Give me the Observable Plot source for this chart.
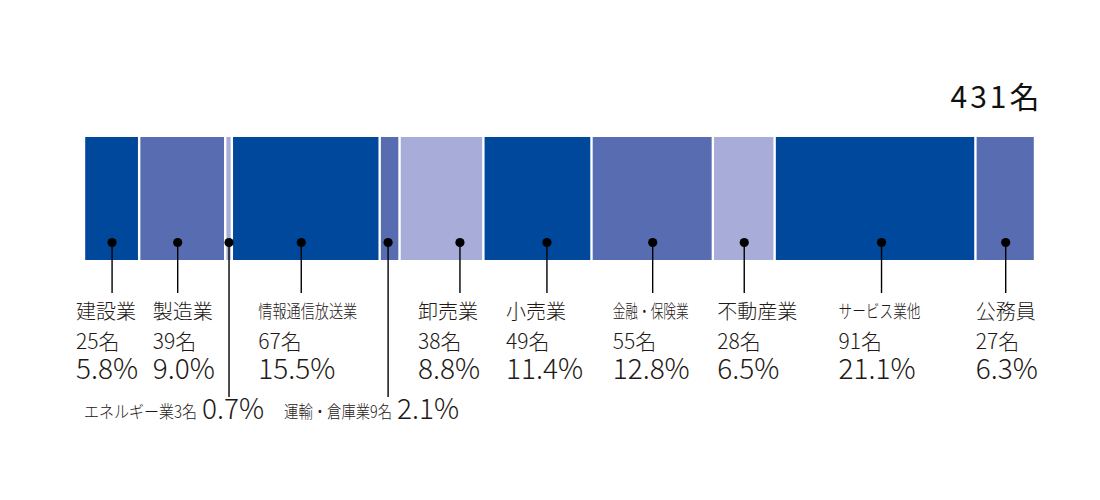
<!DOCTYPE html>
<html>
<head>
<meta charset="utf-8">
<script src="https://cdn.jsdelivr.net/npm/d3@7"></script>
<script src="https://cdn.jsdelivr.net/npm/@observablehq/plot@0.6"></script>
<style>
  html, body { margin: 0; padding: 0; background: #fff; }
</style>
</head>
<body>
<div id="chart"></div>
<script>
// ---- data ----
const categories = ["建設業", "製造業", "エネルギー業", "情報通信放送業", "運輸・倉庫業", "卸売業", "小売業", "金融・保険業", "不動産業", "サービス業他", "公務員"];
const counts = [25, 39, 3, 67, 9, 38, 49, 55, 28, 91, 27];
const percents = ["5.8%", "9.0%", "0.7%", "15.5%", "2.1%", "8.8%", "11.4%", "12.8%", "6.5%", "21.1%", "6.3%"];
const unit = "名";
const totalLabel = "431名";

// ---- style / layout (pixels) ----
const palette = ["#00489c", "#586cb2", "#a8acd8"];
const frame = {left: 84, right: 1035, top: 137, bottom: 260};
const dotShiftPx = [0, -5, 0, -5, -2, 18, 9, 0, 0, 6, 0];       // dot position relative to segment centre
const labelStartPx = [-36, -25, 0, -43, 0, -42, -41, -40, -27, -43, -30]; // label block start relative to dot
const inlineLabel = {2: {textEnd: -32, pctStart: -27}, 4: {textEnd: 4, pctStart: 9}}; // thin segments labelled below
const condensedWidthPx = [0, 0, 113, 99, 108, 0, 0, 76, 0, 82, 0]; // condensed label widths (0 = natural)
const yPx = {dot: 242, leaderEnd: 293, leaderEndLow: 397, name: 312, count: 342, pct: 370, inline: 410, total: 98};

const total = d3.sum(counts);
const pxPerUnit = (frame.right - frame.left) / total;
const toY = px => (frame.bottom - px) / (frame.bottom - frame.top);
const ends = d3.cumsum(counts);

const rows = categories.map((c, i) => {
  const end = ends[i], start = end - counts[i];
  const dotX = (start + end) / 2 + dotShiftPx[i] / pxPerUnit;
  const inl = inlineLabel[i];
  return {
    i, c, count: counts[i], pct: percents[i], start, end,
    lo: 0, hi: 1,
    dotX,
    dotY: toY(yPx.dot),
    leadY: toY(inl ? yPx.leaderEndLow : yPx.leaderEnd),
    labelX: dotX + labelStartPx[i] / pxPerUnit,
    inline: !!inl,
    inlineText: c + counts[i] + unit,
    inlineTextX: inl ? dotX + inl.textEnd / pxPerUnit : null,
    inlinePctX: inl ? dotX + inl.pctStart / pxPerUnit : null
  };
});
const normal = rows.filter(d => !d.inline);
const inl = rows.filter(d => d.inline);

const font = "'Noto Sans CJK JP Light', 'Noto Sans CJK JP', 'Noto Sans', sans-serif";
const ink = "#231815";

const chart = Plot.plot({
  width: 1100,
  height: 500,
  margin: 0,
  x: {domain: [0, total], range: [frame.left, frame.right], axis: null},
  y: {domain: [0, 1], range: [frame.bottom, frame.top], axis: null},
  style: {fontFamily: font, background: "#fff", color: ink},
  marks: [
    Plot.rect(rows, {x1: "start", x2: "end", y1: "lo", y2: "hi", fill: d => palette[d.i % 3], insetLeft: 1.2, insetRight: 1.2}),
    Plot.ruleX(rows, {x: "dotX", y1: "dotY", y2: "leadY", stroke: "#000", strokeWidth: 1.4}),
    Plot.dot(rows, {x: "dotX", y: "dotY", r: 4.6, fill: "#000", stroke: null}),
    // regular labels
    Plot.text(normal, {x: "labelX", y: () => toY(yPx.name), text: "c", textAnchor: "start",
      fontSize: d => condensedWidthPx[d.i] ? 18 : 20, fill: ink, fontWeight: 300, className: "cond"}),
    Plot.text(normal, {x: "labelX", y: () => toY(yPx.count), text: d => d.count + unit, textAnchor: "start",
      fontSize: 21, fill: ink, fontWeight: 300}),
    Plot.text(normal, {x: "labelX", y: () => toY(yPx.pct), text: "pct", textAnchor: "start",
      fontSize: 28, fill: ink, fontWeight: 300}),
    // inline labels for thin segments
    Plot.text(inl, {x: "inlineTextX", y: () => toY(yPx.inline + 2), text: "inlineText", textAnchor: "end",
      fontSize: 17, fill: ink, fontWeight: 300, className: "cond"}),
    Plot.text(inl, {x: "inlinePctX", y: () => toY(yPx.inline), text: "pct", textAnchor: "start",
      fontSize: 28, fill: ink, fontWeight: 300}),
    // total
    Plot.text([totalLabel], {x: () => total, y: () => toY(yPx.total), text: d => d, textAnchor: "end", dx: 7,
      fontSize: 30, fill: "#111", fontWeight: 400, fontFamily: "'Noto Sans CJK JP', sans-serif", className: "total-label"})
  ]
});
// condense long labels to their reference widths
const widthByText = new Map();
rows.forEach(d => {
  if (condensedWidthPx[d.i]) widthByText.set(d.inline ? d.inlineText : d.c, condensedWidthPx[d.i]);
});
d3.select(chart).selectAll(".cond text").each(function () {
  const w = widthByText.get(this.textContent);
  if (w) d3.select(this).attr("textLength", w).attr("lengthAdjust", "spacingAndGlyphs");
});
d3.select(chart).selectAll(".total-label text").attr("letter-spacing", "3px");
document.getElementById("chart").appendChild(chart);
</script>
</body>
</html>
